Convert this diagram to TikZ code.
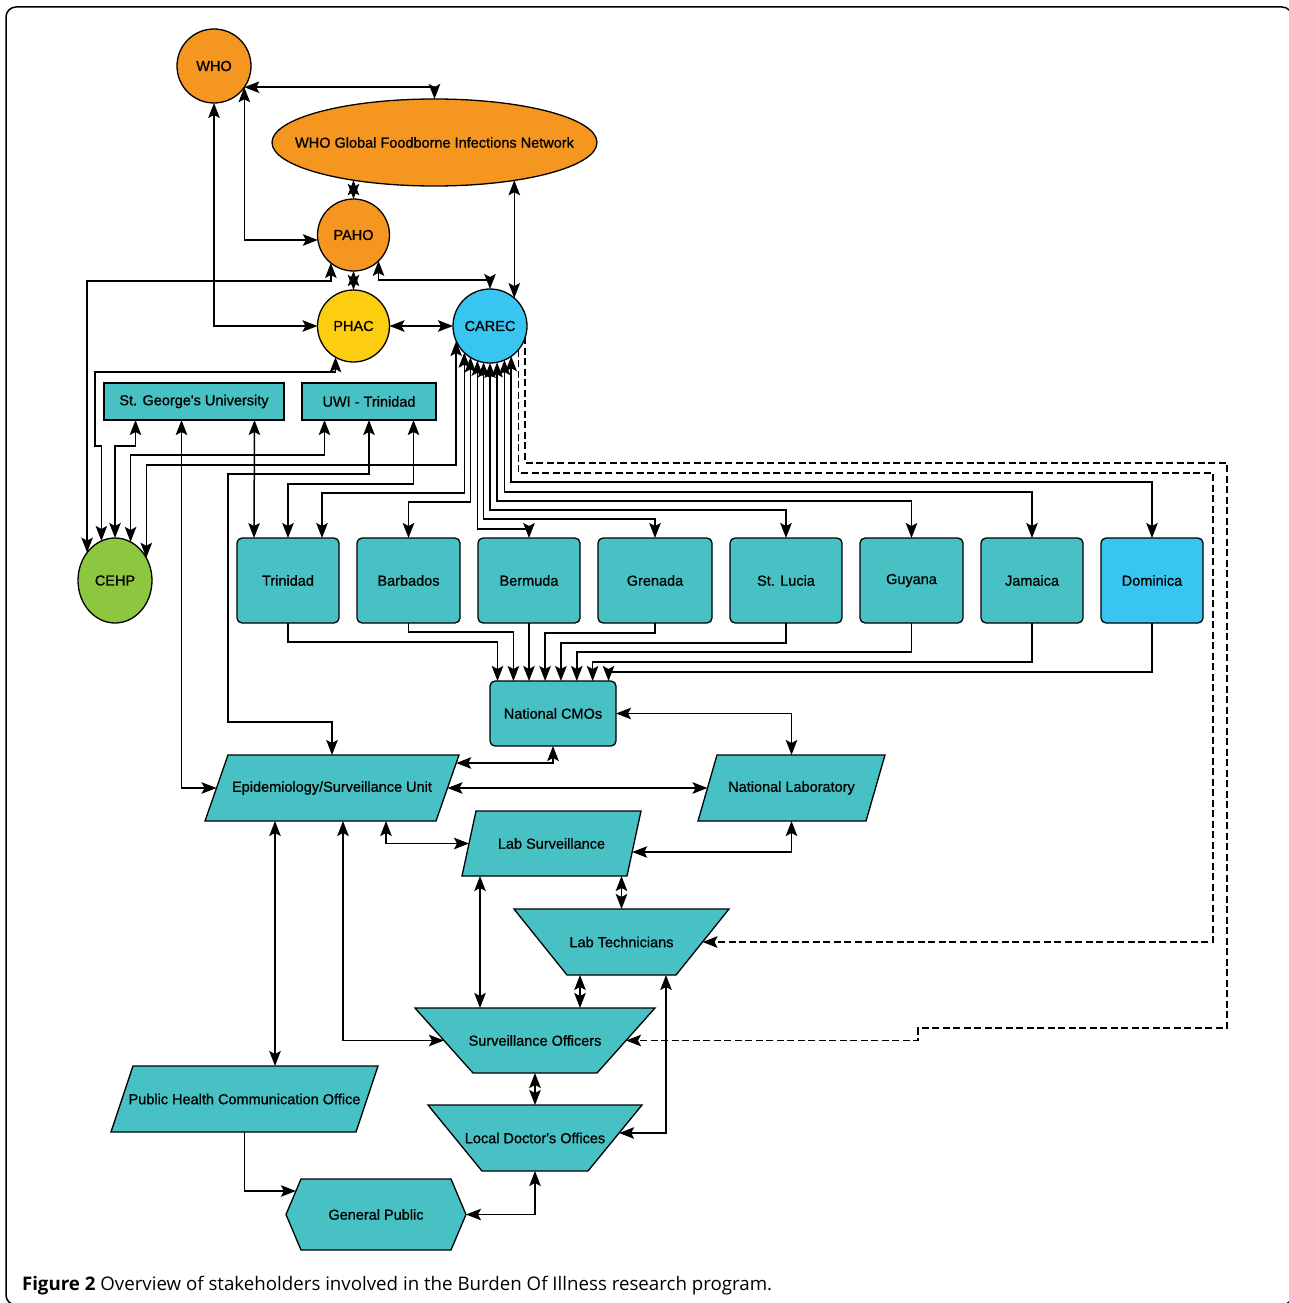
\documentclass[tikz,border=0pt]{standalone}
\usepackage{fontspec}
\setmainfont{Liberation Sans}
\newfontfamily\nodefont[FakeBold=0.8]{Liberation Sans}
\newfontfamily\capfont{Open Sans}
\usetikzlibrary{arrows.meta,shapes.geometric,backgrounds}
\definecolor{orgC}{RGB}{244,150,32}
\definecolor{yelC}{RGB}{253,205,16}
\definecolor{bluC}{RGB}{57,197,241}
\definecolor{tealC}{RGB}{72,193,196}
\definecolor{grnC}{RGB}{141,198,63}
\begin{document}
\begin{tikzpicture}[x=1pt,y=-1pt,
  every node/.style={font=\nodefont\fontsize{14.5pt}{17pt}\selectfont, inner sep=0pt, outer sep=0pt},
  circ/.style={circle, draw, line width=1.3pt, minimum size=#1},
  ell/.style={ellipse, draw, line width=1.3pt},
  rbox/.style={rectangle, draw, fill=tealC, line width=1.3pt},
  cbox/.style={rbox, rounded corners=5pt, minimum width=#1, minimum height=85pt},
  ghost/.style={rectangle, minimum width=#1},
  shp/.style={fill=tealC, draw=black, line width=1.3pt, line join=miter},
  con/.style={line width=1.5pt, draw=black},
  bi/.style={con, {Stealth[length=15pt,width=11.5pt,inset=3pt]}-{Stealth[length=15pt,width=11.5pt,inset=3pt]}},
  uni/.style={con, -{Stealth[length=15pt,width=11.5pt,inset=3pt]}},
  dsh/.style={uni, dash pattern=on 7pt off 3.5pt}
]
\useasboundingbox (0,0) rectangle (1289,1303);

% ---------- nodes ----------
\node[circ=74pt, fill=orgC] (WHO) at (214,66) {WHO};
\node[ell, fill=orgC, minimum width=325pt, minimum height=87pt] (GFN) at (434.5,142.5) {\makebox[0pt]{WHO Global Foodborne Infections Network}};
\node[circ=72pt, fill=orgC] (PAHO) at (353.5,235) {PAHO};
\node[circ=72pt, fill=yelC] (PHAC) at (353.5,326) {PHAC};
\node[circ=74pt, fill=bluC] (CAREC) at (490,326) {CAREC};
\node[rbox, minimum width=180pt, minimum height=37pt] (SGU) at (194,401.5) {St. George's University};
\node[rbox, minimum width=134pt, minimum height=37pt] (UWI) at (369,401.5) {UWI - Trinidad};
\node[ell, fill=grnC, minimum width=74pt, minimum height=85pt] (CEHP) at (115,580.5) {CEHP};

\node[cbox=102pt] (Trinidad) at (288,580.5) {Trinidad};
\node[cbox=103pt] (Barbados) at (408.5,580.5) {Barbados};
\node[cbox=102pt] (Bermuda) at (529,580.5) {Bermuda};
\node[cbox=114pt] (Grenada) at (655,580.5) {Grenada};
\node[cbox=112pt] (StLucia) at (786,580.5) {St. Lucia};
\node[cbox=103pt] (Guyana) at (911.5,580.5) {Guyana};
\node[cbox=102pt] (Jamaica) at (1032,580.5) {Jamaica};
\node[cbox=102pt, fill=bluC] (Dominica) at (1152,580.5) {Dominica};
\node[rbox, rounded corners=5pt, minimum width=126pt, minimum height=65pt] (CMOs) at (553,713.5) {National CMOs};

\node[ghost=254pt, minimum height=66pt] (Epi) at (332,788) {Epidemiology/Surveillance Unit};
\node[ghost=187pt, minimum height=66pt] (NL) at (791.5,788) {National Laboratory};
\node[ghost=179pt, minimum height=65pt] (LS) at (551.5,843.5) {Lab Surveillance};
\node[ghost=215pt, minimum height=66pt] (LT) at (621.5,942) {Lab Technicians};
\node[ghost=240pt, minimum height=65pt] (SO) at (535,1040.5) {Surveillance Officers};
\node[ghost=214pt, minimum height=66pt] (LDO) at (535,1138) {Local Doctor's Offices};
\node[ghost=267pt, minimum height=66pt] (PHCO) at (244.5,1099) {Public Health Communication Office};
\node[ghost=180pt, minimum height=71pt] (GP) at (376,1214.5) {General Public};

\begin{scope}[on background layer]
  \fill[white] (0,0) rectangle (1289,1303);
  \path[shp] ([xshift=23pt]Epi.north west) -- (Epi.north east) -- ([xshift=-23pt]Epi.south east) -- (Epi.south west) -- cycle;
  \path[shp] ([xshift=19pt]NL.north west) -- (NL.north east) -- ([xshift=-19pt]NL.south east) -- (NL.south west) -- cycle;
  \path[shp] ([xshift=14pt]LS.north west) -- (LS.north east) -- ([xshift=-14pt]LS.south east) -- (LS.south west) -- cycle;
  \path[shp] ([xshift=22pt]PHCO.north west) -- (PHCO.north east) -- ([xshift=-22pt]PHCO.south east) -- (PHCO.south west) -- cycle;
  \path[shp] (LT.north west) -- (LT.north east) -- ([xshift=-53pt]LT.south east) -- ([xshift=53pt]LT.south west) -- cycle;
  \path[shp] (SO.north west) -- (SO.north east) -- ([xshift=-58pt]SO.south east) -- ([xshift=58pt]SO.south west) -- cycle;
  \path[shp] (LDO.north west) -- (LDO.north east) -- ([xshift=-54pt]LDO.south east) -- ([xshift=54pt]LDO.south west) -- cycle;
  \path[shp] (GP.west) -- ([xshift=15pt]GP.north west) -- ([xshift=-15pt]GP.north east) -- (GP.east) -- ([xshift=-15pt]GP.south east) -- ([xshift=15pt]GP.south west) -- cycle;
\end{scope}

% ---------- helper coordinates ----------
\coordinate (s1) at ([xshift=-58.5pt]SGU.south);
\coordinate (s2) at ([xshift=-12.5pt]SGU.south);
\coordinate (s3) at ([xshift=60.5pt]SGU.south);
\coordinate (u1) at ([xshift=-44.5pt]UWI.south);
\coordinate (u3) at ([xshift=44.5pt]UWI.south);
\coordinate (t1) at ([xshift=-34pt]Trinidad.north);
\coordinate (t3) at ([xshift=34pt]Trinidad.north);
\coordinate (cm1) at ([xshift=-55.5pt]CMOs.north);
\coordinate (cm2) at ([xshift=-39.6pt]CMOs.north);
\coordinate (cm4) at ([xshift=-7.9pt]CMOs.north);
\coordinate (cm5) at ([xshift=7.9pt]CMOs.north);
\coordinate (cm6) at ([xshift=23.8pt]CMOs.north);
\coordinate (cm7) at ([xshift=39.6pt]CMOs.north);
\coordinate (cm8) at ([xshift=55.5pt]CMOs.north);
\coordinate (e1) at ([xshift=11.5pt]Epi.west);
\coordinate (eR1) at ([xshift=-2.8pt,yshift=-8pt]Epi.north east);
\coordinate (eR2) at ([xshift=-11.5pt]Epi.east);
\coordinate (eB1) at ([xshift=-57pt]Epi.south);
\coordinate (eB2) at ([xshift=11pt]Epi.south);
\coordinate (eB3) at ([xshift=54pt]Epi.south);
\coordinate (nlL) at ([xshift=9.5pt]NL.west);
\coordinate (lsL) at ([xshift=7pt]LS.west);
\coordinate (lsR) at ([xshift=-8.8pt,yshift=-41pt]LS.north east);
\coordinate (ltR) at ([xshift=-26.5pt]LT.east);
\coordinate (ltB) at ([xshift=44.5pt]LT.south);
\coordinate (soL) at ([xshift=29pt]SO.west);
\coordinate (soR) at ([xshift=-29pt]SO.east);
\coordinate (soT1) at ([xshift=-55pt]SO.north);
\coordinate (soT2) at ([xshift=45pt]SO.north);
\coordinate (ldoR) at ([xshift=-22.9pt,yshift=-28pt]LDO.north east);
\coordinate (gpL) at ([xshift=9.9pt,yshift=-12pt]GP.north west);

% ---------- top cluster ----------
\draw[bi] (WHO.-35) -| (GFN.north);
\draw[bi] (WHO.-35) |- (PAHO.-172);
\draw[bi] (WHO.south) |- (PHAC.west);
\draw[bi] (PAHO.north) -- (PAHO.north |- GFN.-155.7);
\draw[bi] (PAHO.south) -- (PHAC.north);
\draw[bi] (CAREC.49.6) -- (CAREC.49.6 |- GFN.-25.4);
\draw[bi] (PAHO.-46) |- (CAREC.north |- 0,280) -- (CAREC.north);
\draw[bi] (PHAC.east) -- (CAREC.west);
\draw[bi] (CEHP.135.2) |- (PAHO.-129.7 |- 0,281) -- (PAHO.-129.7);
\draw[bi] (PHAC.-120) |- (95,372) |- (CEHP.109.6 |- 0,446) -- (CEHP.109.6);

% ---------- universities ----------
\draw[bi] (s1) |- (CEHP.north |- 0,446) -- (CEHP.north);
\draw[bi] (u1) |- (CEHP.68.9 |- 0,455) -- (CEHP.68.9);
\draw[bi] (CAREC.-156.8) |- (CEHP.36.8 |- 0,465) -- (CEHP.36.8);
\draw[bi] (s2) |- (e1);
\draw[bi] (s3) -- (t1);
\draw[bi] (UWI.south) |- (228,474) |- (Epi.north |- 0,722) -- (Epi.north);
\draw[bi] (u3) |- (Trinidad.north |- 0,484) -- (Trinidad.north);

% ---------- CAREC to countries ----------
\draw[bi] (CAREC.-134.6) |- (t3 |- 0,493) -- (t3);
\draw[bi] (CAREC.-122.7) |- (Barbados.north |- 0,502) -- (Barbados.north);
\draw[bi] (CAREC.-110.6) |- (Bermuda.north |- 0,529) -- (Bermuda.north);
\draw[bi] (CAREC.-100.9) |- (Grenada.north |- 0,519) -- (Grenada.north);
\draw[bi] (CAREC.-90) |- (StLucia.north |- 0,510) -- (StLucia.north);
\draw[bi] (CAREC.-79.1) |- (Guyana.north |- 0,501) -- (Guyana.north);
\draw[bi] (CAREC.-67.8) |- (Jamaica.north |- 0,492) -- (Jamaica.north);
\draw[bi] (CAREC.-55.4) |- (Dominica.north |- 0,482) -- (Dominica.north);
\draw[dsh] (CAREC.-40.8) |- (1213,473) |- (ltR);
\draw[dsh] (CAREC.-18.9) |- (1227,463) |- (918,1028) |- (soR);

% ---------- countries to CMOs ----------
\draw[uni] (Trinidad.south) |- (cm1 |- 0,642) -- (cm1);
\draw[uni] (Barbados.south) |- (cm2 |- 0,632) -- (cm2);
\draw[uni] (Bermuda.south) -- (Bermuda.south |- CMOs.north);
\draw[uni] (Grenada.south) |- (cm4 |- 0,633) -- (cm4);
\draw[uni] (StLucia.south) |- (cm5 |- 0,643) -- (cm5);
\draw[uni] (Guyana.south) |- (cm6 |- 0,652) -- (cm6);
\draw[uni] (Jamaica.south) |- (cm7 |- 0,662) -- (cm7);
\draw[uni] (Dominica.south) |- (cm8 |- 0,672) -- (cm8);

% ---------- lower part ----------
\draw[bi] (CMOs.east) -| (NL.north);
\draw[bi] (CMOs.south) |- (eR1);
\draw[bi] (eR2) -- (nlL);
\draw[bi] (eB3) |- (lsL);
\draw[bi] (NL.south) |- (lsR);
\draw[bi] (LT.north) -- (LT.north |- LS.south);
\draw[bi] (soT1) -- (soT1 |- LS.south);
\draw[bi] (soT2) -- (soT2 |- LT.south);
\draw[bi] (ltB) |- (ldoR);
\draw[bi] (eB2) |- (soL);
\draw[bi] (eB1) -- (eB1 |- PHCO.north);
\draw[bi] (SO.south) -- (LDO.north);
\draw[uni] (PHCO.south) |- (gpL);
\draw[bi] (LDO.south) |- (GP.east);

% ---------- frame and caption ----------
\draw[line width=1.5pt, rounded corners=10pt] (6,7) rectangle (1292,1305);
\node[anchor=base west, font=\capfont\fontsize{18.7pt}{20pt}\selectfont] (cap) at (22,1290)
  {\textbf{Figure 2} Overview of stakeholders involved in the Burden Of Illness research program.};
\end{tikzpicture}
\end{document}
